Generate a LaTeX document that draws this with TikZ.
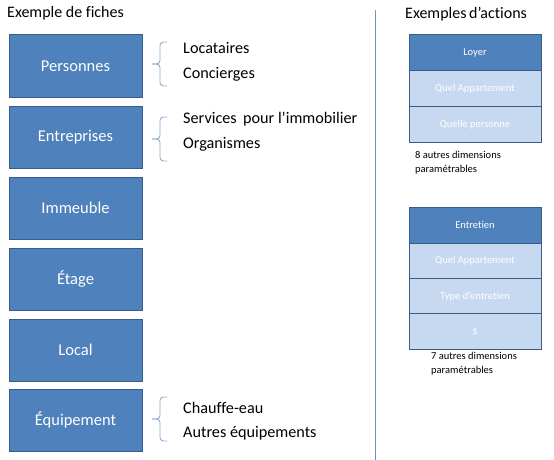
\documentclass[tikz,border=0pt]{standalone}
\usepackage{fontspec}
\setmainfont[Ligatures=NoCommon]{Carlito}
\definecolor{boxfill}{HTML}{4F81BD}
\definecolor{boxline}{HTML}{385D8A}
\definecolor{rowfill}{HTML}{C6D9F1}
\definecolor{bracecol}{HTML}{8EAAD3}
\definecolor{sepcol}{HTML}{6F92C6}
\begin{document}
\begin{tikzpicture}[x=1pt,y=-1pt,
  fiche/.style={draw=boxline,line width=1pt,fill=boxfill,minimum width=133pt,minimum height=62pt,inner sep=0pt,text=white,font=\fontsize{16.5}{16.5}\selectfont},
  head/.style={draw=boxline,line width=1pt,fill=boxfill,minimum width=132pt,minimum height=36pt,inner sep=0pt,text=white,font=\fontsize{10.5}{10.5}\selectfont},
  row/.style={draw=boxline,line width=1pt,fill=rowfill,minimum width=132pt,minimum height=36pt,inner sep=0pt,text=white,font=\fontsize{10.5}{10.5}\selectfont},
  item/.style={anchor=west,inner sep=0pt,font=\fontsize{16.2}{16.2}\selectfont},
  note/.style={anchor=north west,inner sep=0pt,align=left,font=\fontsize{10.5}{14}\selectfont},
  title/.style={anchor=west,inner sep=0pt,font=\fontsize{16}{16}\selectfont},
  brace/.style={draw=bracecol,line width=0.9pt,rounded corners=3.5pt}]
\useasboundingbox (0,0) rectangle (554,460);
% titles
\node[title] (t1) at (7,13) {Exemple de fiches};
\node[title] (t2) at (405,14) {Exemples\kern-1pt\ d’actions};
% separator
\coordinate (s1) at (375,10);
\coordinate (s2) at (375,460);
\draw[sepcol,line width=0.8pt] (s1) -- (s2);
% fiches
\node[fiche] (pers) at (75.5,66) {Personnes};
\node[fiche] (entr) at (75.5,137) {Entreprises};
\node[fiche] (imm) at (75.5,208) {Immeuble};
\node[fiche] (etage) at (75.5,279) {Étage};
\node[fiche] (local) at (75.5,350) {Local};
\node[fiche] (equip) at (75.5,420) {Équipement};
% items
\node[item] (loc) at (183,48) {Locataires};
\node[item] (conc) at (183,74) {Concierges};
\node[item] (serv) at (183,119) {Services\, pour l’immobilier};
\node[item] (org) at (183,144) {Organismes};
\node[item] (chauf) at (183,408) {Chauffe-eau};
\node[item] (autres) at (183,433) {Autres équipements};
% braces
\draw[brace] (167,42) -- (160,42) -- (160,64) -- (152,64);
\draw[brace] (152,64) -- (160,64) -- (160,86) -- (167,86);
\draw[brace] (167,117) -- (160,117) -- (160,139) -- (152,139);
\draw[brace] (152,139) -- (160,139) -- (160,161) -- (167,161);
\draw[brace] (167,397) -- (160,397) -- (160,419) -- (152,419);
\draw[brace] (152,419) -- (160,419) -- (160,441) -- (167,441);
% table 1
\node[head] (loyer) at (475,53) {Loyer};
\node[row] (qa1) at (475,89) {Quel Appartement};
\node[row] (qp) at (475,124.5) {Quelle personne};
\node[note] (n1) at (415,151.5) {8 autres dimensions\\paramétrables};
% table 2
\node[head] (entret) at (475,225) {Entretien};
\node[row] (qa2) at (475,261) {Quel Appartement};
\node[row] (type) at (475,296.5) {Type d’entretien};
\node[row] (dollar) at (475,331.5) {\$};
\node[note] (n2) at (431,352.5) {7 autres dimensions\\paramétrables};
\end{tikzpicture}
\end{document}
